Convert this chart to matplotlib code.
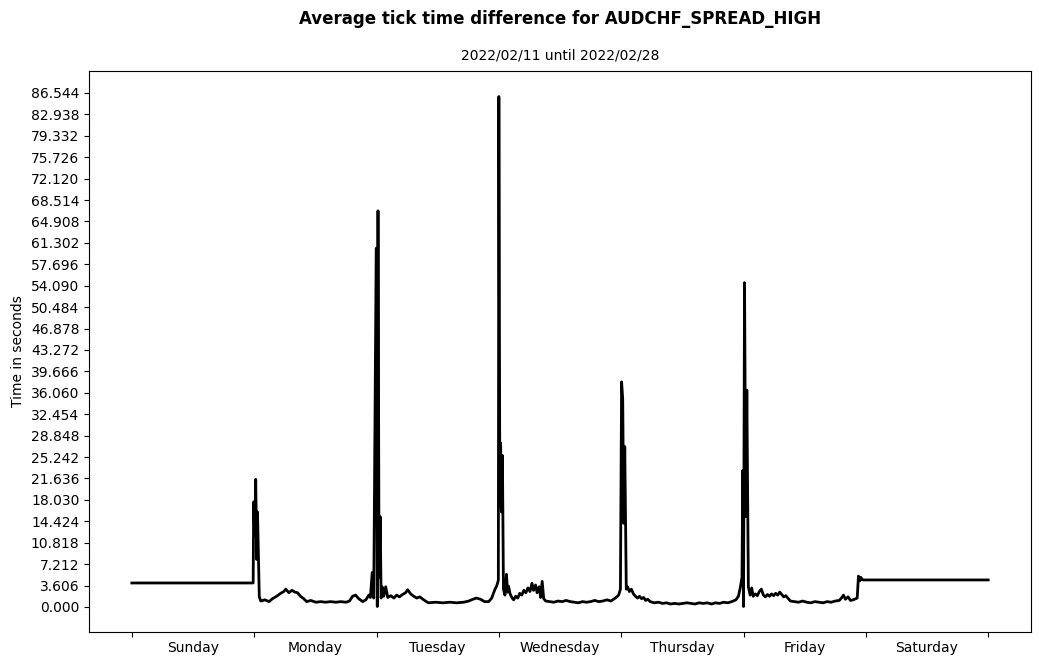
import matplotlib
matplotlib.use("Agg")
import matplotlib.pyplot as plt
import numpy as np

# hours since Sunday 00:00 and average tick time difference (seconds)
hours = [
    0.0, 23.8,
    23.9, 24.1, 24.3, 24.5, 24.65, 25.0, 25.3, 26.1, 26.9, 27.6, 28.4, 29.2, 29.8, 30.2,
    30.8, 31.4, 32.0, 32.5, 33.1, 33.7, 34.3, 35.1, 36.1, 37.1, 38.0, 39.0, 40.0, 41.0,
    42.0, 42.7, 43.3, 43.9, 44.5, 45.3, 45.9, 46.5, 46.8, 47.15, 47.45, 47.94, 48.15,
    48.29, 48.5, 48.72, 48.9, 49.1, 49.4, 49.8, 50.2, 50.8, 51.4, 51.95, 52.5, 53.1,
    53.7, 54.1, 54.7, 55.3, 55.9, 56.5, 57.1, 57.6, 58.2, 59.6, 61.0, 62.4, 63.7, 65.1,
    66.1, 66.9, 67.6, 68.4, 69.2, 70.0, 70.6, 71.2, 71.6, 71.9,
    72.0, 72.2, 72.35, 72.5, 72.7, 72.9, 73.2, 73.5, 73.7, 73.9, 74.2, 74.6, 74.9, 75.3,
    75.7, 76.1, 76.5, 76.9, 77.3, 77.7, 78.1, 78.5, 78.8, 79.2, 79.5, 79.9, 80.2, 80.5,
    80.8, 81.2, 82.0, 82.8, 83.6, 84.4, 85.2, 86.0, 86.8, 87.6, 88.4, 89.2, 90.0, 90.8,
    91.6, 92.4, 93.2, 94.0, 94.5, 95.0, 95.5, 95.85,
    96.08, 96.3, 96.5, 96.7, 97.0, 97.25, 97.6, 98.0, 98.4, 98.8, 99.2, 99.6, 100.0,
    100.4, 100.8, 101.2, 101.7, 102.5, 103.3, 104.1, 104.9, 105.7, 106.5, 107.3, 108.1,
    108.9, 109.7, 110.5, 111.3, 112.1, 112.9, 113.7, 114.5, 115.3, 116.1, 116.9, 117.7,
    118.5, 119.0, 119.4, 119.7, 119.86,
    120.0, 120.2, 120.45, 120.65, 120.95, 121.3, 121.6, 121.9, 122.3, 122.7, 123.1,
    123.5, 123.9, 124.3, 124.7, 125.1, 125.5, 125.9, 126.3, 126.7, 127.1, 127.5, 127.9,
    128.3, 128.7, 129.2, 130.0, 130.8, 131.6, 132.4, 133.2, 134.0, 134.8, 135.6, 136.4,
    137.2, 138.0, 138.8, 139.3, 139.6, 140.0, 140.5, 141.0, 141.5, 142.0, 142.3, 142.55,
    142.8, 143.0, 143.3, 143.5, 168.0,
]
seconds = [
    4.04, 4.04,
    17.7, 12.0, 21.5, 8.0, 16.0, 1.7, 1.0, 1.2, 0.9, 1.4, 1.8, 2.3, 2.6, 3.0,
    2.4, 2.8, 2.5, 2.4, 1.8, 1.4, 0.9, 1.1, 0.8, 0.9, 0.8, 0.9, 0.8, 0.9,
    0.8, 1.0, 1.8, 2.0, 1.4, 0.9, 1.2, 2.0, 1.6, 5.8, 1.5, 60.4, 0.08,
    66.7, 5.0, 15.2, 1.5, 3.4, 1.8, 3.4, 1.6, 1.9, 1.5, 2.0, 1.7, 2.1,
    2.4, 2.9, 2.2, 1.8, 1.5, 1.7, 1.3, 1.0, 0.7, 0.8, 0.7, 0.8, 0.7, 0.8,
    1.0, 1.3, 1.5, 1.3, 0.9, 0.9, 1.5, 2.9, 3.6, 4.5,
    85.94, 17.0, 27.6, 16.0, 25.5, 3.0, 2.0, 5.5, 2.5, 3.5, 2.2, 1.5, 1.2, 1.8,
    1.5, 2.3, 2.0, 2.8, 2.4, 3.2, 2.6, 4.0, 2.8, 3.7, 2.4, 3.4, 1.6, 4.3,
    1.4, 1.0, 0.9, 0.8, 1.0, 0.9, 1.1, 0.9, 0.8, 0.7, 0.9, 0.8, 0.9, 1.1,
    0.9, 1.0, 1.2, 1.0, 1.3, 1.6, 2.0, 3.0,
    37.9, 35.0, 14.1, 27.0, 3.0, 3.4, 2.6, 3.0, 2.2, 1.8, 1.5, 1.8, 1.4,
    1.6, 1.1, 1.3, 0.9, 0.7, 0.8, 0.6, 0.7, 0.5, 0.6, 0.5, 0.6,
    0.7, 0.6, 0.5, 0.7, 0.6, 0.7, 0.5, 0.7, 0.6, 0.8, 0.7, 0.9,
    1.2, 1.8, 3.4, 5.0, 23.0,
    0.08, 54.6, 15.2, 36.5, 3.4, 2.0, 3.2, 1.8, 2.2, 1.9, 2.6,
    3.0, 2.0, 1.7, 2.1, 1.8, 2.2, 1.9, 2.3, 2.0, 2.5, 2.1, 1.7,
    1.9, 1.5, 1.0, 0.9, 0.8, 1.0, 0.8, 0.7, 0.9, 0.8, 0.7, 0.9,
    0.8, 1.0, 1.1, 1.6, 2.0, 1.3, 1.7, 1.1, 1.2, 1.4, 1.5, 5.2,
    4.4, 5.0, 4.6, 4.55, 4.55,
]
ytick_max = 86.544
ytick_count = 25
day_labels = ["Sunday", "Monday", "Tuesday", "Wednesday", "Thursday", "Friday", "Saturday"]
title = "Average tick time difference for AUDCHF_SPREAD_HIGH"
subtitle = "2022/02/11 until 2022/02/28"

fig = plt.figure(figsize=(10.39, 6.64), dpi=100)
ax = fig.add_axes([0.0857, 0.0482, 0.9066, 0.8448])

ax.plot(hours, seconds, color="black", linewidth=2)

yt = np.linspace(0, ytick_max, ytick_count)
ax.set_yticks(yt)
ax.set_yticklabels([f"{v:.3f}" for v in yt])

ax.set_xticks([24 * i for i in range(8)])
ax.set_xticklabels([])
ax.set_xticks([24 * i + 12 for i in range(7)], minor=True)
ax.set_xticklabels(day_labels, minor=True)
ax.tick_params(axis="x", which="minor", length=0, pad=6.5)

ax.set_ylabel("Time in seconds")
ax.set_title(subtitle, fontsize=10, pad=8.5)
cx = 0.0857 + 0.9066 / 2
fig.text(cx, 0.972, title, ha="center", va="center", fontsize=12, fontweight="bold")

fig.savefig("out.png", dpi=100)
